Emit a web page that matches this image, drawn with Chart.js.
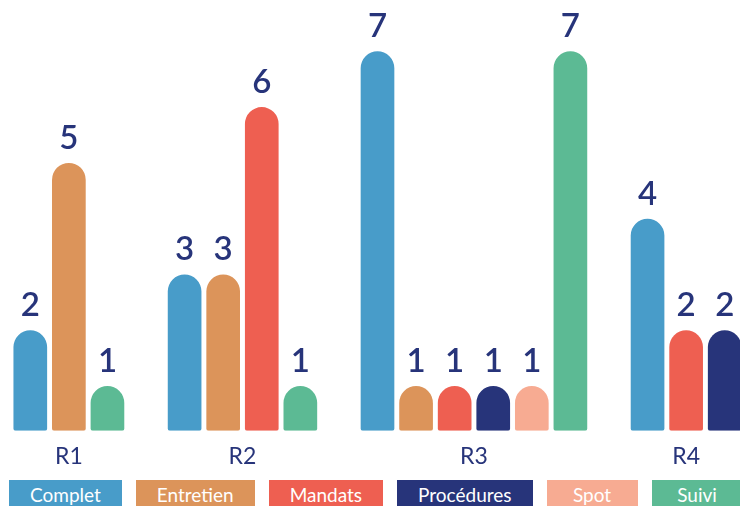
<!DOCTYPE html>
<html>
<head>
<meta charset="utf-8">
<script src="https://cdn.jsdelivr.net/npm/chart.js@4"></script>
<style>
    body { margin: 0; background: #fff; font-family: Lato, sans-serif; overflow: hidden; }
    #wrap { position: relative; width: 740px; height: 506px; overflow: hidden; }
    #chartBox { position: absolute; left: 0; top: 0; width: 744px; height: 470px; }
    #legend { position: absolute; left: 9px; top: 480px; display: flex; gap: 14px; white-space: nowrap; }
    .legend-item { height: 30px; line-height: 30px; padding: 0 21px; min-width: 91px; box-sizing: border-box;
                   text-align: center; color: #fff; font-size: 19px; }
</style>
</head>
<body>
<div id="wrap">
    <div id="chartBox"><canvas id="rChart"></canvas></div>
    <div id="legend"></div>
</div>
<script>
const groups = ['R1', 'R2', 'R3', 'R4'];
const seriesNames = ['Complet', 'Entretien', 'Mandats', 'Procédures', 'Spot', 'Suivi'];
const complet = [2, 3, 7, 4];
const entretien = [5, 3, 1, 0];
const mandats = [0, 6, 1, 2];
const procedures = [0, 0, 1, 2];
const spot = [0, 0, 1, 0];
const suivi = [1, 1, 7, 0];
const seriesColors = ['#489cc9', '#dc945a', '#ee5f51', '#27347a', '#f7ab92', '#5cba94'];

const seriesValues = [complet, entretien, mandats, procedures, spot, suivi];
const navy = '#27347a';
const yMin = 0.2;

// one category slot per non-zero bar, an empty slot between groups
const slots = [];
const groupSlots = groups.map(() => []);
groups.forEach((g, gi) => {
    if (gi > 0) slots.push({ label: '', series: -1 });
    seriesValues.forEach((vals, si) => {
        if (vals[gi] > 0) {
            groupSlots[gi].push(slots.length);
            slots.push({ label: g + ' ' + seriesNames[si], series: si, value: vals[gi] });
        }
    });
});

const datasets = seriesNames.map((name, si) => ({
    label: name,
    data: slots.map(s => s.series === si ? s.value : null),
    backgroundColor: seriesColors[si],
    borderWidth: 0,
    borderSkipped: false,
    borderRadius: { topLeft: 17, topRight: 17, bottomLeft: 2, bottomRight: 2 },
    base: yMin,
    barPercentage: 0.873,
    categoryPercentage: 1
}));

// numbers above the bars and group names under them
const labelPlugin = {
    id: 'barLabels',
    afterDatasetsDraw(chart) {
        const ctx = chart.ctx;
        ctx.save();
        ctx.fillStyle = navy;
        ctx.textAlign = 'center';
        ctx.textBaseline = 'alphabetic';
        ctx.font = '600 33px Lato';
        chart.data.datasets.forEach((ds, di) => {
            const meta = chart.getDatasetMeta(di);
            meta.data.forEach((bar, i) => {
                if (ds.data[i] == null) return;
                ctx.fillText(ds.data[i], bar.x, bar.y - 14);
            });
        });
        const xScale = chart.scales.x;
        ctx.font = '23px Lato';
        groupSlots.forEach((idx, gi) => {
            const x = (xScale.getPixelForValue(idx[0]) + xScale.getPixelForValue(idx[idx.length - 1])) / 2;
            ctx.fillText(groups[gi], x, chart.chartArea.bottom + 33.6);
        });
        ctx.restore();
    }
};

const ctx = document.getElementById('rChart').getContext('2d');
const rChart = new Chart(ctx, {
    type: 'bar',
    data: {
        labels: slots.map(s => s.label),
        datasets: datasets
    },
    options: {
        responsive: true,
        maintainAspectRatio: false,
        animation: false,
        layout: { padding: { left: 11, right: 0, top: 0, bottom: 39.3 } },
        scales: {
            x: { stacked: true, display: false },
            y: { stacked: true, display: false, min: yMin, max: 7.92 }
        },
        plugins: {
            legend: { display: false },
            tooltip: { enabled: false }
        }
    },
    plugins: [labelPlugin]
});

// legend as coloured boxes
const legendEl = document.getElementById('legend');
rChart.data.datasets.forEach(ds => {
    const item = document.createElement('div');
    item.className = 'legend-item';
    item.style.background = ds.backgroundColor;
    item.textContent = ds.label;
    legendEl.appendChild(item);
});
</script>
</body>
</html>
